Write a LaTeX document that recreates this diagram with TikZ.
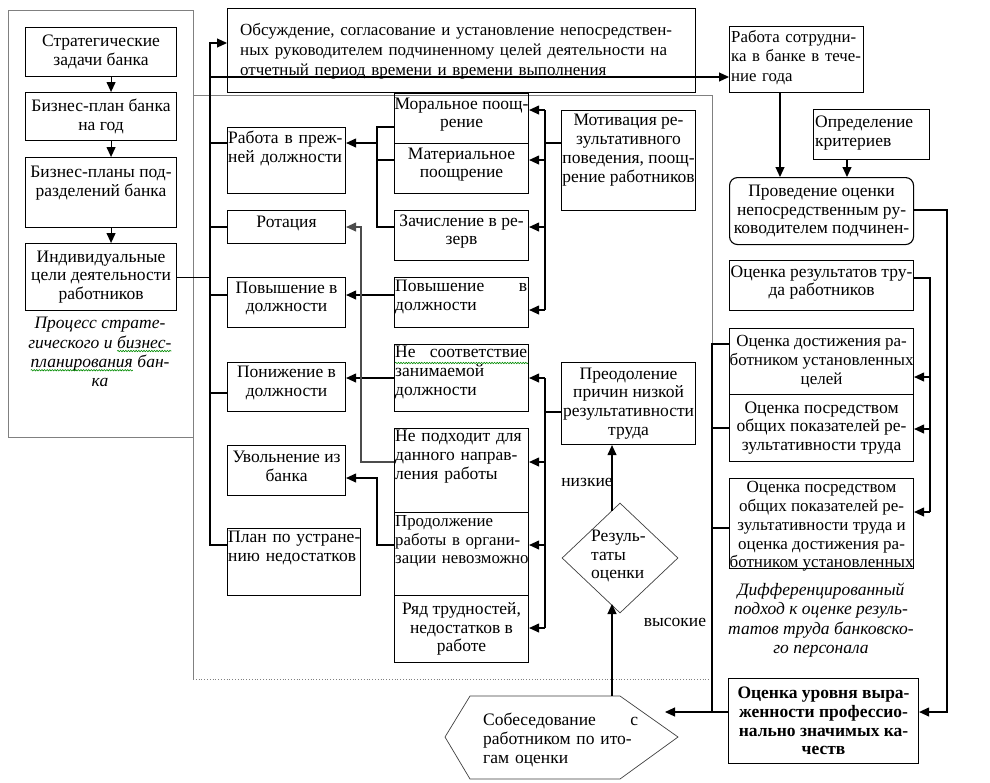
\documentclass[tikz,border=0pt]{standalone}
\usepackage{fontspec}
\setmainfont{Liberation Serif}
\usetikzlibrary{arrows.meta,shapes.geometric,decorations.pathmorphing}
\newcommand\dfont{\fontsize{17.5pt}{18.8pt}\selectfont}
\newcommand\sfont{\fontsize{17pt}{18.8pt}\selectfont}
\newcommand\LJ[1]{\hbox to\hsize{#1}}
\newcommand\LL[1]{\hbox to\hsize{#1\hfil}}
\tikzset{wave/.style={draw=green!55!black,line width=0.6pt,decorate,decoration={snake,amplitude=0.7pt,segment length=2.6pt}}}
\newcommand\spell[1]{\tikz[baseline=(sw.base)]{\node[inner sep=0pt,outer sep=0pt,draw=none] (sw) {#1}; \draw[wave] ([yshift=-3pt]sw.base west) -- ([yshift=-3pt]sw.base east);}}
\begin{document}
\begin{tikzpicture}[x=1pt,y=-1pt,
  bx/.style={draw,line width=1.1pt,inner sep=0pt,anchor=north west},
  tx/.style={inner sep=0pt,align=center,font=\dfont},
  tj/.style={inner sep=0pt,font=\dfont,text width=#1,anchor=north west},
  ar/.style={line width=1.1pt,-{Triangle[length=10pt,width=9pt]}},
  ln/.style={line width=1.1pt},
  fr/.style={draw=black!50,line width=0.8pt},
  thn/.style={draw=black!75,line width=0.7pt}]
\useasboundingbox (0,0) rectangle (990,782);
\fill[white] (0,0) rectangle (990,782);

% frames
\draw[fr] (8,10) rectangle (193,437);
\draw[fr] (193,679) -- (193,95) -- (712,95) -- (712,679);
\draw[fr,dotted] (193,679) -- (712,679);

% left column
\node[bx,minimum width=151pt,minimum height=49pt] (s1) at (25,27) {};
\node[tx] at (s1.center) {Стратегические\\задачи банка};
\node[bx,minimum width=151pt,minimum height=48pt] (s2) at (25,92) {};
\node[tx] at (s2.center) {Бизнес-план банка\\на год};
\node[bx,minimum width=151pt,minimum height=70pt] (s3) at (25,157) {};
\node[tx,anchor=north] at ([yshift=-9pt]s3.north) {Бизнес-планы под-\\разделений банка};
\node[bx,minimum width=151pt,minimum height=67pt] (s4) at (25,243) {};
\node[tx] at (s4.center) {Индивидуальные\\цели деятельности\\работников};
\node[tx,font=\fontsize{17.5pt}{19.2pt}\selectfont\itshape] (cap1) at (100,352) {Процесс страте-\\гического и \spell{бизнес-}\\\spell{планирования} бан-\\ка};
\draw[ar] ([xshift=10pt]s1.south) -- ([xshift=10pt]s2.north);
\draw[ar] ([xshift=10pt]s2.south) -- ([xshift=10pt]s3.north);
\draw[ar] ([xshift=10pt]s3.south) -- ([xshift=10pt]s4.north);

% top
\node[bx,minimum width=468pt,minimum height=84pt] (T) at (227,8) {};
\node[tj=442pt,font=\fontsize{17pt}{20pt}\selectfont] at (240,23) {\LJ{Обсуждение, согласование и установление непосредствен-}\par
\LJ{ных руководителем подчиненному целей деятельности на}\par
\LL{отчетный период времени и времени выполнения}};
\node[bx,minimum width=134pt,minimum height=66pt] (W) at (729,26) {};
\node[tj=132pt,font=\fontsize{16.8pt}{19.5pt}\selectfont] at (731,30) {\LJ{Работа сотрудни-}\par\LJ{ка в банке в тече-}\par\LL{ние года}};

% right column
\node[bx,minimum width=116pt,minimum height=50pt] (C) at (813,109) {};
\node[tx,align=left,anchor=north west] at (815,116) {Определение\\критериев};
\node[bx,rounded corners=8pt,minimum width=184pt,minimum height=67pt] (Q) at (729,177) {};
\node[tx] at (Q.center) {Проведение оценки\\непосредственным ру-\\ководителем подчинен-};
\node[bx,minimum width=184pt,minimum height=50pt] (E1) at (729,260) {};
\node[tx,yshift=3pt] at (E1.center) {Оценка результатов тру-\\да работников};
\node[bx,minimum width=184pt,minimum height=66pt] (E2) at (729,328) {};
\node[tx,font=\sfont] at (E2.center) {Оценка достижения ра-\\ботником установленных\\целей};
\node[bx,minimum width=184pt,minimum height=67pt] (E3) at (729,394) {};
\node[tx] at (E3.center) {Оценка посредством\\общих показателей ре-\\зультативности труда};
\node[bx,minimum width=184pt,minimum height=90pt] (E4) at (729,478) {};
\node[tx,font=\sfont,yshift=-3pt] at (E4.center) {Оценка посредством\\общих показателей ре-\\зультативности труда и\\оценка достижения ра-\\ботником установленных};
\node[tx,font=\fontsize{17.5pt}{19.5pt}\selectfont\itshape] (cap2) at (821,620) {Дифференцированный\\подход к оценке резуль-\\татов труда банковско-\\го персонала};
\node[bx,minimum width=190pt,minimum height=85pt] (B) at (728,678) {};
\node[tx,font=\dfont\bfseries] at (B.center) {Оценка уровня выра-\\женности профессио-\\нально значимых ка-\\честв};

% outcome column
\node[bx,minimum width=118pt,minimum height=66pt] (o1) at (227,127) {};
\node[tj=116pt] at (228,131) {\LJ{Работа в преж-}\par\LL{ней должности}};
\node[bx,minimum width=118pt,minimum height=33pt] (o2) at (227,210) {};
\node[tx,yshift=4pt] at (o2.center) {Ротация};
\node[bx,minimum width=118pt,minimum height=50pt] (o3) at (227,277) {};
\node[tx,yshift=4pt] at (o3.center) {Повышение в\\должности};
\node[bx,minimum width=118pt,minimum height=49pt] (o4) at (227,362) {};
\node[tx,yshift=4pt] at (o4.center) {Понижение в\\должности};
\node[bx,minimum width=118pt,minimum height=50pt] (o5) at (227,445) {};
\node[tx,yshift=4pt] at (o5.center) {Увольнение из\\банка};
\node[bx,minimum width=133pt,minimum height=67pt] (o6) at (227,528) {};
\node[tj=131pt] at (228,531) {\LJ{План по устране-}\par\LL{нию недостатков}};

% reason column
\node[bx,minimum width=134pt,minimum height=50pt] (r1) at (394,93) {};
\node[tx,yshift=4pt] at (r1.center) {Моральное поощ-\\рение};
\node[bx,minimum width=134pt,minimum height=50pt] (r2) at (394,143) {};
\node[tx,yshift=4pt] at (r2.center) {Материальное\\поощрение};
\node[bx,minimum width=134pt,minimum height=50pt] (r3) at (394,210) {};
\node[tx,yshift=4pt] at (r3.center) {Зачисление в ре-\\зерв};
\node[bx,minimum width=134pt,minimum height=50pt] (r4) at (394,277) {};
\node[tj=132pt] at (395,280) {\LJ{Повышение\hfil в}\par\LL{должности}};
\node[bx,minimum width=134pt,minimum height=67pt] (r5) at (394,344) {};
\node[tj=132pt] at (395,346) {\LJ{Не\hfil соответствие}\par\LL{занимаемой}\par\LL{должности}};
\draw[wave] ([xshift=1pt,yshift=-19pt]r5.north west) -- ([xshift=-1pt,yshift=-19pt]r5.north east);
\node[bx,minimum width=134pt,minimum height=84pt] (r6) at (394,428) {};
\node[tj=132pt] at (395,430) {\LJ{Не подходит для}\par\LJ{данного направ-}\par\LL{ления работы}};
\node[bx,minimum width=134pt,minimum height=83pt] (r7) at (394,512) {};
\node[tj=132pt,font=\fontsize{16.8pt}{18.8pt}\selectfont] at (395,515) {\LL{Продолжение}\par\LJ{работы в органи-}\par\LJ{зации невозможно}};
\node[bx,minimum width=134pt,minimum height=67pt] (r8) at (394,595) {};
\node[tx] at (r8.center) {Ряд трудностей,\\недостатков в\\работе};

\node[bx,minimum width=134pt,minimum height=100pt] (M) at (561,110) {};
\node[tx,anchor=north] at ([yshift=-4pt]M.north) {Мотивация ре-\\зультативного\\поведения, поощ-\\рение работников};
\node[bx,minimum width=134pt,minimum height=82pt] (P) at (561,362) {};
\node[tx] at (P.center) {Преодоление\\причин низкой\\результативности\\труда};

% decision
\node[thn,diamond,minimum width=116pt,minimum height=110pt,inner sep=0pt] (D) at (620,558) {};
\node[tx,align=left,anchor=west] at (591,556) {Резуль-\\таты\\оценки};
\node[tx] (lo) at (587,482) {низкие};
\node[tx] (hi) at (675,622) {высокие};

% interview hexagon
\draw[thn] (445,737) -- (470,696) -- (620,696) -- (678,737) -- (620,779) -- (470,779) -- cycle;
\node[tj=155pt] (H) at (483,713) {\LJ{Собеседование\hfil с}\par\LJ{работником по ито-}\par\LL{гам оценки}};

% ---- connectors ----
\coordinate (j1) at (210,43);
\coordinate (j2) at (210,77);
\coordinate (j3) at (210,545);
\draw[ar] (s4.east) -| (j1) -- (j1 -| T.west);
\draw[ar] (j2) -- (j2 -| W.west);
\draw[ln] (j1) -- (j3) -- (j3 -| o6.west);
\foreach \yy/\nn in {143/o1,227/o2,295/o3,393/o4}{
  \coordinate (t) at (210,\yy);
  \draw[ln] (t) -- (t -| \nn.west);
}

\coordinate (k1) at (377,127);
\coordinate (k2) at (377,227);
\coordinate (k3) at (377,160);
\coordinate (k4) at (377,143);
\draw[ln] (k1 -| r1.west) -- (k1) -- (k2) -- (k2 -| r3.west);
\draw[ln] (k3) -- (k3 -| r2.west);
\draw[ar] (k4) -- (k4 -| o1.east);
\coordinate (k5) at (370,295);
\draw[ar] (k5 -| r4.west) -- (k5 -| o3.east);
\coordinate (k6) at (370,378);
\draw[ar] (k6 -| r5.west) -- (k6 -| o4.east);
\coordinate (k7) at (361,462);
\coordinate (k8) at (361,227);
\draw[ar,draw=black!70] (k7 -| r6.west) -- (k7) -- (k8) -- (k8 -| o2.east);
\coordinate (k9) at (377,545);
\coordinate (k10) at (377,478);
\draw[ar] (k9 -| r7.west) -- (k9) -- (k10) -- (k10 -| o5.east);

\coordinate (m0) at (545,143);
\coordinate (m1) at (545,110);
\coordinate (m2) at (545,160);
\coordinate (m3) at (545,227);
\coordinate (m4) at (545,310);
\draw[ln] (m0 -| M.west) -- (m0);
\draw[ln] (m1) -- (m4);
\draw[ar] (m1) -- (m1 -| r1.east);
\draw[ar] (m2) -- (m2 -| r2.east);
\draw[ar] (m3) -- (m3 -| r3.east);
\draw[ar] (m4) -- (m4 -| r4.east);

\coordinate (p0) at (545,412);
\coordinate (p1) at (545,378);
\coordinate (p2) at (545,462);
\coordinate (p3) at (545,545);
\coordinate (p4) at (545,628);
\draw[ln] (p0 -| P.west) -- (p0);
\draw[ln] (p1) -- (p4);
\draw[ar] (p1) -- (p1 -| r5.east);
\draw[ar] (p2) -- (p2 -| r6.east);
\draw[ar] (p3) -- (p3 -| r7.east);
\draw[ar] (p4) -- (p4 -| r8.east);

\coordinate (dtop) at (612,511);
\coordinate (dbot) at (612,604);
\coordinate (hn) at (612,696);
\draw[ar] (dtop) -- (dtop |- P.south);
\draw[ar] (hn) -- (dbot);

\coordinate (w1) at (780,92);
\draw[ar] (w1) -- (w1 |- Q.north);
\coordinate (c1) at (847,159);
\draw[ar] (c1) -- (c1 |- Q.north);
\coordinate (q1) at (947,210);
\coordinate (q2) at (947,712);
\draw[ar] (q1 -| Q.east) -- (q1) -- (q2) -- (q2 -| B.east);

\coordinate (e0) at (930,278);
\coordinate (e1) at (930,377);
\coordinate (e2) at (930,429);
\coordinate (e3) at (930,512);
\draw[ln] (e0 -| E1.east) -- (e0) -- (e3);
\draw[ar] (e1) -- (e1 -| E2.east);
\draw[ar] (e2) -- (e2 -| E3.east);
\draw[ar] (e3) -- (e3 -| E4.east);

\coordinate (f1) at (712,344);
\coordinate (f2) at (712,428);
\coordinate (f3) at (712,528);
\coordinate (f4) at (712,712);
\coordinate (h1) at (665,712);
\draw[ln] (f1 -| E2.west) -- (f1) -- (f4);
\draw[ln] (f2) -- (f2 -| E3.west);
\draw[ln] (f3) -- (f3 -| E4.west);
\draw[ln] (B.west |- f4) -- (f4);
\draw[ar] (f4) -- (h1);
\end{tikzpicture}
\end{document}
